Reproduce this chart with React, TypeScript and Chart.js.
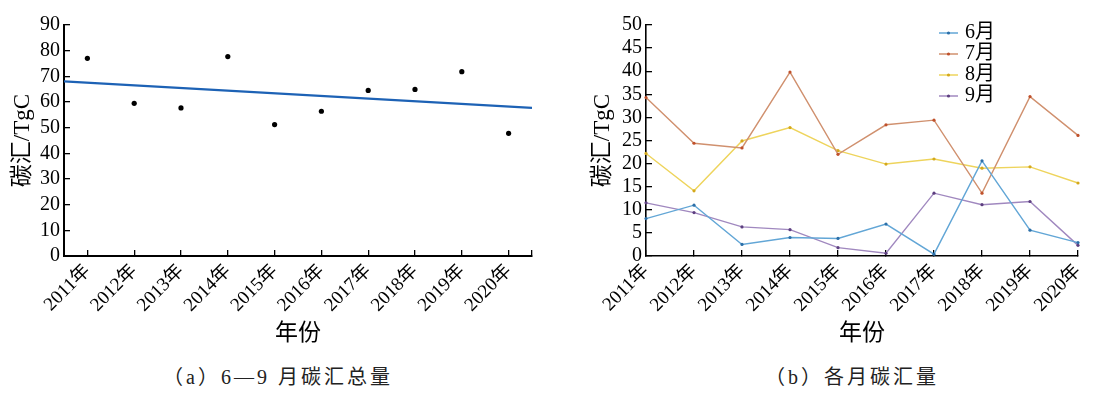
import React, { useEffect, useRef } from "react";
import { Chart, registerables } from "chart.js";

Chart.register(...registerables);

// ---------- data ----------
const years = [2011, 2012, 2013, 2014, 2015, 2016, 2017, 2018, 2019, 2020];
const yearLabels = ["2011年", "2012年", "2013年", "2014年", "2015年", "2016年", "2017年", "2018年", "2019年", "2020年"];
const totalSink = [77.0, 59.5, 57.7, 77.7, 51.2, 56.4, 64.5, 64.9, 71.8, 47.8];
const trendEnds = [68.0, 57.7]; // trend line values at the two ends of the x axis
const monthNames = ["6月", "7月", "8月", "9月"];
const june = [8.1, 11.0, 2.5, 4.0, 3.8, 6.9, 0.4, 20.6, 5.6, 2.9];
const july = [34.3, 24.4, 23.4, 39.8, 22.0, 28.4, 29.4, 13.6, 34.5, 26.1];
const august = [22.2, 14.1, 24.9, 27.8, 22.8, 19.9, 21.0, 19.0, 19.3, 15.8];
const september = [11.5, 9.4, 6.3, 5.7, 1.8, 0.6, 13.6, 11.1, 11.8, 2.3];
const leftYTicks = { min: 0, max: 90, step: 10 };
const rightYTicks = { min: 0, max: 50, step: 5 };

const lineColors = ["#62a6d6", "#d0906e", "#eed45c", "#a088bf"];
const pointColors = ["#2c6fa8", "#c0502a", "#d4a81c", "#5d3f80"];

const SERIF = '"Liberation Serif", "DejaVu Serif", serif, "Noto Sans CJK SC"';
const tickFontY = { family: SERIF, size: 20 };
const tickFontX = { family: SERIF, size: 19 };
const titleFont = { family: SERIF, size: 23 };

const H = 360;

function xAxisCommon(borderWidth: number) {
  return {
    grid: { drawOnChartArea: false, tickLength: -6, color: "#000", lineWidth: 1.3, offset: false },
    border: { color: "#000", width: borderWidth },
    title: {
      display: true,
      text: "年份",
      color: "#000",
      font: titleFont,
      padding: { top: 0, bottom: 12 },
    },
    afterFit: (s: any) => {
      s.height = H - 256;
    },
  };
}

const legendPlugin = {
  id: "monthLegend",
  afterDraw(chart: any) {
    const ctx = chart.ctx;
    const area = chart.chartArea;
    ctx.save();
    chart.data.datasets.forEach((ds: any, i: number) => {
      const y = area.top + 8 + i * 21;
      const x1 = area.left + 293;
      const x2 = area.left + 312;
      ctx.strokeStyle = ds.borderColor;
      ctx.lineWidth = 1.5;
      ctx.beginPath();
      ctx.moveTo(x1, y);
      ctx.lineTo(x2, y);
      ctx.stroke();
      ctx.fillStyle = ds.pointBackgroundColor;
      ctx.beginPath();
      ctx.arc((x1 + x2) / 2, y, 1.6, 0, Math.PI * 2);
      ctx.fill();
      ctx.fillStyle = "#000";
      ctx.font = `20px ${SERIF}`;
      ctx.textBaseline = "middle";
      ctx.textAlign = "left";
      ctx.fillText(ds.label, area.left + 319, y);
    });
    ctx.restore();
  },
};

function LeftChart() {
  const ref = useRef<HTMLCanvasElement>(null);
  useEffect(() => {
    if (!ref.current) return;
    const xMin = years[0] - 0.5;
    const xMax = years[years.length - 1] + 0.5;
    const chart = new Chart(ref.current, {
      type: "scatter",
      data: {
        datasets: [
          {
            label: "总量",
            data: years.map((y, i) => ({ x: y, y: totalSink[i] })),
            pointRadius: 2.6,
            pointBackgroundColor: "#000",
            pointBorderWidth: 0,
            showLine: false,
          },
          {
            label: "趋势",
            data: [
              { x: xMin, y: trendEnds[0] },
              { x: xMax, y: trendEnds[1] },
            ],
            showLine: true,
            pointRadius: 0,
            borderColor: "#1d62b5",
            borderWidth: 2.2,
          },
        ],
      },
      options: {
        responsive: false,
        animation: false,
        layout: { padding: { left: 0, top: 25, right: 28, bottom: 0 } },
        plugins: { legend: { display: false }, tooltip: { enabled: false } },
        scales: {
          x: {
            type: "linear",
            min: xMin,
            max: xMax,
            afterBuildTicks: (s: any) => {
              s.ticks = years.map((v) => ({ value: v })).concat([{ value: xMax }]);
            },
            ticks: {
              autoSkip: false,
              minRotation: 45,
              maxRotation: 45,
              padding: 10,
              color: "#000",
              font: tickFontX,
              callback: (v: any) => {
                const i = years.indexOf(v);
                return i >= 0 ? yearLabels[i] : "";
              },
            },
            ...xAxisCommon(2),
          },
          y: {
            min: leftYTicks.min,
            max: leftYTicks.max,
            ticks: { stepSize: leftYTicks.step, autoSkip: false, padding: 10, color: "#000", font: tickFontY },
            grid: { drawOnChartArea: false, tickLength: -6, color: "#000", lineWidth: 1.3 },
            border: { color: "#000", width: 2 },
            title: {
              display: true,
              text: "碳汇/TgC",
              color: "#000",
              font: titleFont,
              padding: { top: 9, bottom: 0 },
            },
            afterFit: (s: any) => {
              s.width = 64;
            },
          },
        },
      },
    } as any);
    return () => chart.destroy();
  }, []);
  return <canvas ref={ref} width={560} height={H} style={{ position: "absolute", left: 0, top: 0 }} />;
}

function RightChart() {
  const ref = useRef<HTMLCanvasElement>(null);
  useEffect(() => {
    if (!ref.current) return;
    const series = [june, july, august, september];
    const chart = new Chart(ref.current, {
      type: "line",
      data: {
        labels: yearLabels,
        datasets: series.map((d, i) => ({
          label: monthNames[i],
          data: d,
          borderColor: lineColors[i],
          borderWidth: 1.4,
          pointRadius: 1.6,
          pointBorderWidth: 0,
          pointBackgroundColor: pointColors[i],
          tension: 0,
        })),
      },
      options: {
        responsive: false,
        animation: false,
        layout: { padding: { left: 0, top: 25, right: 37, bottom: 0 } },
        plugins: { legend: { display: false }, tooltip: { enabled: false } },
        scales: {
          x: {
            type: "category",
            offset: false,
            ticks: {
              autoSkip: false,
              minRotation: 45,
              maxRotation: 45,
              padding: 10,
              color: "#000",
              font: tickFontX,
            },
            ...xAxisCommon(1.6),
          },
          y: {
            min: rightYTicks.min,
            max: rightYTicks.max,
            ticks: { stepSize: rightYTicks.step, autoSkip: false, padding: 10, color: "#000", font: tickFontY },
            grid: { drawOnChartArea: false, tickLength: -6, color: "#000", lineWidth: 1.3 },
            border: { color: "#000", width: 1.6 },
            title: {
              display: true,
              text: "碳汇/TgC",
              color: "#000",
              font: titleFont,
              padding: { top: 29, bottom: 0 },
            },
            afterFit: (s: any) => {
              s.width = 86;
            },
          },
        },
      },
      plugins: [legendPlugin],
    } as any);
    return () => chart.destroy();
  }, []);
  return <canvas ref={ref} width={555} height={H} style={{ position: "absolute", left: 560, top: 0 }} />;
}

const captionStyle: React.CSSProperties = {
  position: "absolute",
  top: 365,
  width: 400,
  textAlign: "center",
  fontFamily: SERIF,
  fontSize: 20,
  letterSpacing: 3,
  color: "#222",
  lineHeight: "24px",
  whiteSpace: "nowrap",
};

export default function App() {
  return (
    <div
      style={{
        position: "fixed",
        left: 0,
        top: 0,
        width: 1115,
        height: 396,
        background: "#fff",
        overflow: "hidden",
      }}
    >
      <LeftChart />
      <RightChart />
      <div style={{ ...captionStyle, left: 278 - 200 }}>（a）6—9 月碳汇总量</div>
      <div style={{ ...captionStyle, left: 852 - 200 }}>（b）各月碳汇量</div>
    </div>
  );
}
